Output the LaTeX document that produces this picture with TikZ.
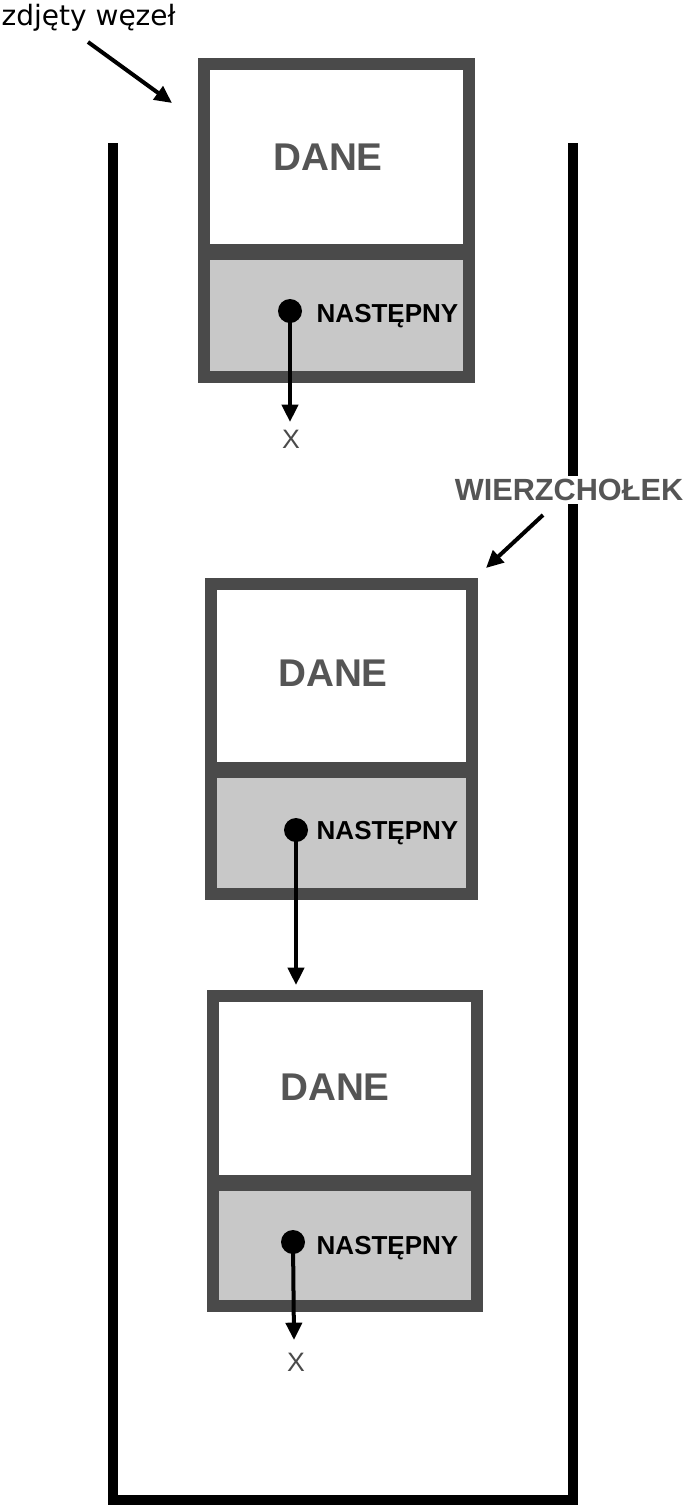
\documentclass[tikz,border=0pt]{standalone}
\usepackage{fontspec}
\setmainfont{Liberation Sans}
\newfontfamily\dvs{DejaVu Sans}
\usetikzlibrary{arrows.meta}
\definecolor{bord}{HTML}{4A4A4A}
\definecolor{fillg}{HTML}{C8C8C8}
\definecolor{txtg}{HTML}{555555}
\begin{document}
\begin{tikzpicture}[x=0.75pt,y=-0.75pt,
  frame/.style={draw=bord,line width=9pt},
  dane/.style={font=\fontsize{29}{30}\selectfont\bfseries,text=txtg},
  nast/.style={font=\fontsize{19.5}{21}\selectfont\bfseries,anchor=west},
  dot/.style={circle,fill=black,inner sep=0pt,minimum width=18pt},
  arr/.style={line width=3pt,-{Triangle[length=13pt,width=12pt]}},
  xl/.style={font=\fontsize{20}{22}\selectfont,text=bord}]
\useasboundingbox (0,0) rectangle (688,1511);
% container
\draw[line width=8pt,line join=miter] (113,143) -- (113,1500) -- (573,1500) -- (573,143);
% boxes
\foreach \x/\y/\w/\h/\d/\n in {198/58/277/325/252/a,205/578/273/322/770/b,207/990/276/322/1183/c}{
  \fill[fillg] (\x,\d) rectangle (\x+\w,\y+\h);
  \draw[frame] (\x+6,\y+6) rectangle (\x+\w-6,\y+\h-6);
  \draw[draw=bord,line width=12pt] (\x,\d) -- (\x+\w,\d);
}
\node[dane] (d1) at (328,157) {DANE};
\node[dane] (d2) at (333,673) {DANE};
\node[dane] (d3) at (335,1087) {DANE};
\node[dot] (p1) at (290,311) {};
\node[dot] (p2) at (296,830) {};
\node[dot] (p3) at (293,1242) {};
\node[nast] (n1) at (312,316) {NASTĘPNY};
\node[nast] (n2) at (312,833) {NASTĘPNY};
\node[nast] (n3) at (312,1248) {NASTĘPNY};
\node[xl] (x1) at (291,439) {X};
\node[xl] (x3) at (296,1362) {X};
\coordinate (t3) at (296,985);
\draw[arr] (p1.center) -- (290,422);
\draw[arr] (p2.center) -- (t3);
\draw[arr] (p3.center) -- (294,1340);
\node[font=\dvs\fontsize{21}{23}\selectfont,anchor=west] (zw) at (-3,18) {zdjęty węzeł};
\coordinate (za) at (88,42); \coordinate (zb) at (172,103);
\draw[arr] (za) -- (zb);
\node[font=\fontsize{23}{25}\selectfont\bfseries,text=txtg,fill=white,inner sep=2pt] (wz) at (569,490) {WIERZCHOŁEK};
\coordinate (wa) at (543,515); \coordinate (wb) at (486,568);
\draw[arr] (wa) -- (wb);
\end{tikzpicture}
\end{document}
